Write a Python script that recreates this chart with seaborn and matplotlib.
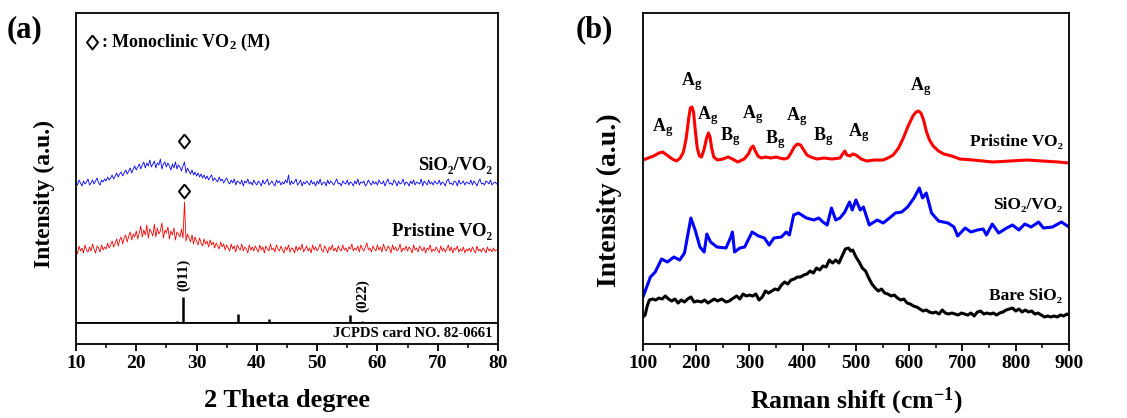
import numpy as np
import pandas as pd
import matplotlib
matplotlib.use("Agg")
import matplotlib.pyplot as plt
import seaborn as sns
from matplotlib.ticker import MultipleLocator

# ---------------- (a) XRD ----------------
two_theta = np.arange(10, 80.001, 0.25)

xrd_sio2_vo2 = [
    141, 138, 143, 140, 137, 142, 139, 141, 144, 138, 140, 143, 139, 142, 145, 140, 138, 143, 141, 144,
    142, 146, 143, 145, 148, 144, 147, 150, 146, 149, 151, 147, 150, 153, 149, 152, 155, 150, 154, 157,
    153, 156, 159, 154, 158, 161, 155, 160, 157, 163, 156, 159, 162, 155, 160, 158, 164, 154, 159, 161,
    156, 160, 157, 153, 159, 155, 161, 154, 158, 156, 152, 157, 161, 150, 155, 152, 149, 153, 148, 151,
    147, 150, 146, 149, 145, 148, 144, 147, 143, 146, 148, 142, 145, 143, 141, 146, 142, 144, 140, 143,
    145, 141, 139, 143, 140, 144, 138, 142, 141, 139, 143, 137, 142, 140, 144, 139, 141, 138, 143, 140,
    138, 142, 140, 137, 143, 139, 141, 144, 138, 140, 142, 139, 137, 143, 140, 142, 138, 141, 139, 143,
    140, 148, 138, 142, 139, 141, 144, 138, 140, 143, 137, 141, 139, 142, 140, 138, 143, 139, 141, 137,
    142, 139, 144, 138, 140, 141, 137, 143, 139, 142, 140, 138, 141, 144, 139, 140, 137, 142, 140, 139,
    143, 138, 141, 140, 137, 142, 139, 144, 138, 141, 140, 142, 137, 139, 143, 140, 138, 142, 139, 141,
    138, 143, 140, 139, 142, 137, 141, 144, 139, 140, 138, 143, 141, 137, 142, 139, 140, 144, 138, 141,
    140, 137, 142, 139, 143, 138, 141, 140, 139, 144, 137, 142, 140, 138, 143, 139, 141, 138, 142, 140,
    139, 143, 138, 141, 140, 137, 142, 144, 139, 140, 138, 142, 141, 137, 143, 139, 140, 142, 138, 141,
    140, 139, 143, 138, 142, 140, 137, 141, 144, 139, 140, 138, 142, 141, 139, 143, 138, 140, 141, 139,
    141,
]

xrd_pristine = [
    74, 69, 77, 72, 75, 70, 78, 73, 71, 76, 72, 79, 74, 70, 77, 75, 71, 78, 73, 76,
    74, 80, 75, 78, 82, 76, 80, 84, 77, 83, 86, 79, 85, 88, 81, 87, 91, 83, 89, 86,
    92, 84, 90, 97, 86, 93, 88, 98, 85, 94, 91, 87, 99, 86, 95, 89, 92, 100, 85, 93,
    90, 96, 84, 92, 88, 95, 83, 91, 89, 86, 94, 85, 121, 82, 89, 85, 81, 88, 79, 86,
    82, 78, 85, 80, 77, 84, 79, 82, 76, 83, 78, 81, 75, 80, 77, 74, 81, 76, 79, 73,
    78, 75, 72, 79, 74, 77, 71, 78, 75, 73, 79, 72, 76, 74, 70, 78, 73, 76, 72, 77,
    74, 71, 78, 73, 76, 70, 77, 74, 72, 79, 73, 75, 71, 78, 74, 72, 77, 73, 70, 76,
    73, 78, 71, 75, 74, 70, 77, 72, 76, 73, 79, 71, 74, 77, 72, 75, 70, 78, 73, 76,
    72, 75, 79, 73, 71, 77, 74, 70, 76, 73, 78, 72, 75, 71, 77, 74, 72, 78, 73, 75,
    71, 76, 74, 79, 72, 75, 73, 77, 71, 78, 74, 72, 76, 80, 73, 75, 71, 77, 74, 72,
    78, 73, 76, 71, 79, 74, 72, 77, 75, 70, 78, 73, 76, 72, 74, 79, 71, 75, 73, 77,
    72, 76, 74, 70, 78, 73, 75, 71, 77, 74, 72, 76, 70, 75, 73, 78, 71, 74, 72, 76,
    73, 70, 77, 72, 75, 71, 74, 78, 72, 76, 70, 75, 73, 77, 71, 74, 72, 76, 70, 74,
    72, 75, 71, 76, 73, 70, 77, 72, 74, 71, 75, 73, 70, 76, 72, 74, 71, 75, 72, 73,
    74,
]

jcpds_pos = [26.8, 27.7, 36.9, 42.0, 55.4, 57.4]
jcpds_int = [2, 26, 9, 4, 8, 2]

# ---------------- (b) Raman ----------------
raman_pristine_x = [100, 110, 120, 130, 137, 145, 155, 163, 170, 176, 181, 186, 189, 192, 195,
                    198, 202, 206, 210, 215, 219, 223, 226, 229, 233, 240, 250, 260, 268, 278,
                    290, 298, 303, 307, 311, 316, 322, 331, 340, 350, 357, 365, 372, 378, 384,
                    390, 396, 402, 408, 415, 427, 440, 455, 470, 475, 479, 483, 489, 494, 500,
                    510, 520, 535, 551, 560, 570, 580, 589, 598, 607, 613, 617, 622, 627, 632,
                    638, 645, 655, 665, 680, 695, 720, 757, 790, 821, 850, 880, 900]
raman_pristine_y = [184, 186, 188, 191, 192, 189, 185, 183, 186, 192, 205, 226, 236, 237, 232,
                    215, 196, 188, 187, 195, 205, 211, 207, 196, 187, 184, 185, 187, 185, 182,
                    185, 190, 196, 198, 193, 188, 186, 187, 186, 187, 186, 185, 186, 191, 197,
                    200, 199, 194, 189, 187, 185, 186, 185, 186, 190, 193, 189, 188, 190, 189,
                    185, 183, 184, 184, 186, 189, 196, 206, 218, 228, 232, 233, 231, 224, 213,
                    204, 198, 193, 190, 188, 185, 184, 182, 183, 184, 183, 182, 181]

raman_sio2_vo2_x = [100, 114, 123, 135, 146, 158, 169, 178, 190, 198, 207, 215, 220, 227,
                    239, 256, 265, 268, 272, 282, 291, 305, 317, 328, 337, 346, 360, 369,
                    375, 383, 392, 407, 421, 430, 438, 446, 454, 462, 470, 479, 488, 493,
                    500, 508, 514, 525, 540, 551, 563, 574, 586, 597, 609, 619, 625, 632,
                    642, 655, 673, 684, 691, 705, 716, 728, 739, 745, 756, 768, 783, 794,
                    806, 817, 829, 843, 852, 869, 886, 900]
raman_sio2_vo2_y = [47, 67, 72, 85, 82, 87, 84, 91, 126, 114, 97, 92, 110, 102,
                    97, 96, 107, 112, 92, 96, 97, 112, 108, 106, 99, 106, 107, 112,
                    109, 129, 131, 126, 124, 126, 122, 119, 136, 124, 126, 132, 142, 134,
                    144, 134, 137, 119, 124, 121, 126, 131, 132, 137, 146, 156, 146, 151,
                    131, 123, 121, 117, 108, 116, 112, 114, 115, 109, 120, 111, 116, 119,
                    114, 120, 117, 122, 116, 117, 122, 117]

raman_bare_x = [100, 104, 108, 112, 118, 124, 130, 136, 142, 148, 154, 160, 166, 172, 178,
                184, 190, 196, 202, 210, 216, 222, 228, 234, 240, 248, 256, 262, 270, 276,
                282, 288, 294, 300, 306, 312, 318, 324, 330, 336, 342, 348, 354, 360, 366,
                372, 378, 384, 390, 396, 402, 408, 414, 420, 426, 432, 438, 444, 450, 456,
                462, 468, 474, 480, 486, 490, 494, 500, 506, 512, 518, 524, 530, 536, 542,
                548, 554, 560, 566, 572, 578, 584, 590, 596, 602, 608, 614, 620, 626, 632,
                638, 644, 650, 656, 662, 668, 674, 680, 686, 692, 698, 704, 710, 716, 722,
                728, 734, 740, 746, 752, 758, 764, 770, 776, 782, 788, 794, 800, 806, 812,
                818, 824, 830, 836, 842, 848, 854, 860, 866, 872, 878, 884, 890, 896, 900]
raman_bare_y = [27, 29, 38, 44, 45, 44, 46, 45, 48, 45, 43, 45, 41, 44, 42,
                45, 47, 42, 43, 42, 44, 41, 43, 45, 43, 45, 42, 43, 46, 48,
                45, 50, 48, 49, 48, 50, 44, 47, 53, 51, 53, 55, 54, 59, 62,
                60, 64, 65, 67, 67, 69, 70, 73, 71, 76, 74, 78, 77, 84, 81,
                84, 81, 88, 95, 96, 93, 94, 87, 82, 76, 73, 66, 60, 56, 53,
                55, 51, 50, 48, 49, 46, 44, 45, 41, 40, 38, 37, 35, 33, 34,
                32, 31, 32, 30, 34, 31, 30, 31, 30, 29, 31, 30, 29, 31, 28,
                32, 33, 30, 31, 30, 31, 29, 31, 32, 34, 35, 36, 33, 35, 32,
                34, 32, 33, 30, 31, 29, 27, 28, 27, 28, 27, 29, 28, 30, 29]

mode_labels = ["A$_g$", "A$_g$", "A$_g$", "B$_g$", "A$_g$", "B$_g$", "A$_g$", "B$_g$", "A$_g$", "A$_g$"]
mode_x = [138, 192, 222, 263, 307, 348, 389, 438, 506, 622]
mode_y = [216, 262, 228, 207, 229, 204, 227, 207, 211, 257]

# ---------------- style ----------------
sns.set_style("ticks")
plt.rcParams["font.family"] = ["Liberation Serif", "DejaVu Serif"]
plt.rcParams["font.weight"] = "bold"
plt.rcParams["text.color"] = "black"
plt.rcParams["mathtext.fontset"] = "custom"
plt.rcParams["mathtext.rm"] = "Liberation Serif:bold"
plt.rcParams["mathtext.bf"] = "Liberation Serif:bold"
plt.rcParams["mathtext.it"] = "Liberation Serif:bold"
plt.rcParams["mathtext.default"] = "bf"

fig = plt.figure(figsize=(11.27, 4.18), dpi=100)
ax_a = fig.add_axes([0.0674, 0.2273, 0.3745, 0.7416])
ax_j = fig.add_axes([0.0674, 0.1770, 0.3745, 0.0503], sharex=ax_a)
ax_b = fig.add_axes([0.5705, 0.1770, 0.3780, 0.7919])

for ax in (ax_a, ax_j, ax_b):
    for s in ax.spines.values():
        s.set_linewidth(1.3)
        s.set_color("black")
    ax.set_yticks([])

diamond = [(0, 1), (0.8, 0), (0, -1), (-0.8, 0), (0, 1)]

# (a)
sns.lineplot(x=two_theta, y=xrd_sio2_vo2, ax=ax_a, color="#0000ff", linewidth=0.6, estimator=None)
sns.lineplot(x=two_theta, y=xrd_pristine, ax=ax_a, color="#ff0000", linewidth=0.6, estimator=None)
ax_a.vlines(jcpds_pos, 0, jcpds_int, color="black", linewidth=1.8)
ax_a.plot([27.9, 27.9, 12.6], [182, 132, 281], linestyle="none", marker=diamond, markersize=10,
          markerfacecolor="white", markeredgecolor="black", markeredgewidth=1.4)
ax_a.set_xlim(10, 80)
ax_a.set_ylim(0, 310)
ax_a.tick_params(axis="x", which="both", bottom=False, labelbottom=False)
ax_a.set_xlabel("")
ax_a.text(14.1, 281, ": Monoclinic VO$_2$ (M)", fontsize=13, fontweight="bold",
          va="center", ha="left")
ax_a.text(79, 157, "SiO\u2082/VO\u2082", fontsize=13.5, fontweight="bold", ha="right", va="center")
ax_a.text(79, 91, "Pristine VO\u2082", fontsize=13.5, fontweight="bold", ha="right", va="center")
ax_a.text(27.9, 48, "(011)", fontsize=11, fontweight="bold", rotation=90, ha="center", va="center")
ax_a.text(57.5, 27, "(022)", fontsize=11, fontweight="bold", rotation=90, ha="center", va="center")

ax_j.set_ylim(0, 1)
ax_j.text(79, 0.5, "JCPDS card NO. 82-0661", fontsize=10.5, fontweight="bold", ha="right", va="center")
ax_j.xaxis.set_major_locator(MultipleLocator(10))
ax_j.xaxis.set_minor_locator(MultipleLocator(5))
ax_j.tick_params(axis="x", which="major", direction="out", length=5, width=1.3, labelsize=14, pad=3,
                 colors="black")
ax_j.tick_params(axis="x", which="minor", direction="out", length=3, width=1.3)
ax_j.set_xlabel("2 Theta degree", fontsize=19, fontweight="bold", labelpad=12, color="black")
for lab in ax_j.get_xticklabels():
    lab.set_fontweight("bold")

# (b)
sns.lineplot(x=raman_pristine_x, y=raman_pristine_y, ax=ax_b, color="#ff0000", linewidth=2.2, estimator=None)
sns.lineplot(x=raman_sio2_vo2_x, y=raman_sio2_vo2_y, ax=ax_b, color="#0000ff", linewidth=2.2, estimator=None)
sns.lineplot(x=raman_bare_x, y=raman_bare_y, ax=ax_b, color="black", linewidth=2.2, estimator=None)
for lab, mx, my in zip(mode_labels, mode_x, mode_y):
    ax_b.text(mx, my, lab, fontsize=13, fontweight="bold", ha="center", va="center")
ax_b.text(888, 202, "Pristine VO\u2082", fontsize=12.5, fontweight="bold", ha="right", va="center")
ax_b.text(888, 139, "SiO\u2082/VO\u2082", fontsize=12.5, fontweight="bold", ha="right", va="center")
ax_b.text(888, 48, "Bare SiO\u2082", fontsize=12.5, fontweight="bold", ha="right", va="center")
ax_b.set_xlim(100, 900)
ax_b.set_ylim(0, 331)
ax_b.xaxis.set_major_locator(MultipleLocator(100))
ax_b.xaxis.set_minor_locator(MultipleLocator(50))
ax_b.tick_params(axis="x", which="major", direction="out", length=5, width=1.3, labelsize=14, pad=3,
                 colors="black")
ax_b.tick_params(axis="x", which="minor", direction="out", length=3, width=1.3)
for lab in ax_b.get_xticklabels():
    lab.set_fontweight("bold")
ax_b.set_xlabel("Raman shift (cm$^{-1}$)", fontsize=18.5, fontweight="bold", labelpad=10, color="black")

# y labels and panel letters as figure text
fig.text(44 / 1127, 1 - 194 / 418, "Intensity (a.u.)", fontsize=17, fontweight="bold",
         rotation=90, ha="center", va="center")
fig.text(609 / 1127, 1 - 200 / 418, "Intensity (a.u.)", fontsize=20, fontweight="bold",
         rotation=90, ha="center", va="center")
fig.text(0.006, 0.93, "(a)", fontsize=22, fontweight="bold", ha="left", va="center")
fig.text(0.511, 0.928, "(b)", fontsize=22, fontweight="bold", ha="left", va="center")

fig.savefig("out.png", dpi=100)
